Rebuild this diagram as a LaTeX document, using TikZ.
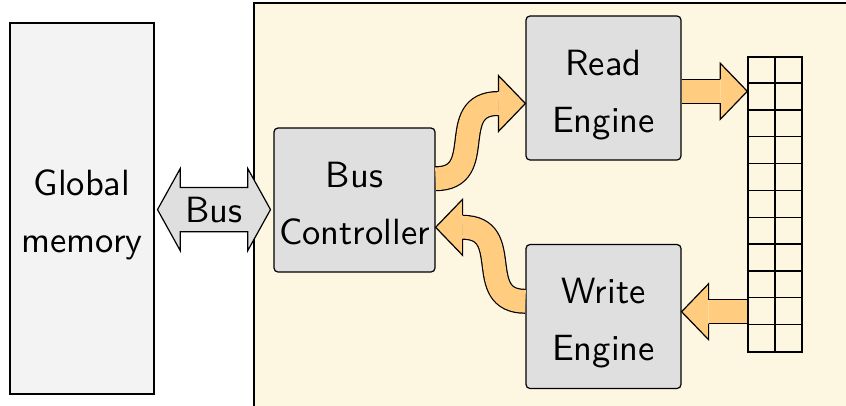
\documentclass[tikz,border=0pt]{standalone}
\usepackage{fontspec}
\newfontfamily\lmsf{lmsans10-regular.otf}
\usetikzlibrary{calc,shapes.arrows}
\definecolor{memfill}{HTML}{F3F3F3}
\definecolor{unitbg}{HTML}{FDF6E0}
\definecolor{boxfill}{HTML}{DFDFDF}
\definecolor{flow}{HTML}{FFCC80}
\newcommand{\topgap}{\rule{0pt}{39pt}}
\newcommand{\botgap}{\rule[-7pt]{0pt}{7pt}}
\tikzset{
	block/.style={draw,fill=boxfill,rounded corners=4pt,minimum width=155,minimum height=144,inner sep=2pt,align=center},
	fat/.style={double=flow,double distance=22.6pt},
	flowhead/.pic={\filldraw[fill=flow,line join=miter] (-27,-11.9) -- (-27,-28) -- (0,0) -- (-27,28) -- (-27,11.9);}
}
\begin{document}
\begin{tikzpicture}[x=1pt,y=-1pt,line width=1.2pt,font=\lmsf\fontsize{36.5}{57}\selectfont]
	\useasboundingbox (0,0) rectangle (846,405);
	\filldraw[fill=unitbg] (254,3) rectangle (870,430);
	\node[draw,fill=memfill,minimum width=144,minimum height=371,inner sep=2pt,align=center] (mem) at (82,208.5) {\topgap Global\\memory\botgap};
	\node[block,minimum width=161] (bc) at (354.5,200) {\topgap Bus\\Controller\botgap};
	\node[block] (rd) at (603.5,88) {\topgap Read\\Engine\botgap};
	\node[block] (wr) at (603.5,316.5) {\topgap Write\\Engine\botgap};
	\node[double arrow,draw,fill=boxfill,minimum height=113,double arrow head extend=18.8,double arrow tip angle=122,inner xsep=0,inner ysep=8.7] (bus) at (214,209.6) {Bus};
	% buffer
	\node[draw,line width=1.4pt,minimum width=54,minimum height=295,inner sep=0] (buf) at (775,204.5) {};
	\foreach \r in {1,...,10}
		\draw[line width=1.4pt] ($(buf.north west)+(0,26.818*\r)$) -- ++(54,0);
	\draw[line width=1.4pt] (buf.north) -- (buf.south);
	% data flow
	\coordinate (rdtip) at ($(rd.west)+(0,15.5)$);
	\draw[fat] ($(bc.east)+(0,-21.3)$) to[out=0,in=180,looseness=1.4] ($(rdtip)+(-27,0)$);
	\pic at (rdtip) {flowhead};
	\coordinate (bctip) at ($(bc.east)+(0,27.3)$);
	\draw[fat] ($(wr.west)+(0,-15.2)$) to[out=180,in=0,looseness=1.4] ($(bctip)+(27,0)$);
	\pic[rotate=180] at (bctip) {flowhead};
	\coordinate (buftip) at ($(buf.north west)+(0,35)$);
	\draw[fat] (rd.east |- buftip) -- ($(buftip)+(-27,0)$);
	\pic at (buftip) {flowhead};
	\coordinate (wrtip) at ($(wr.east)+(0,-4.8)$);
	\draw[fat] (buf.west |- wrtip) -- ($(wrtip)+(27,0)$);
	\pic[rotate=180] at (wrtip) {flowhead};
\end{tikzpicture}
\end{document}
